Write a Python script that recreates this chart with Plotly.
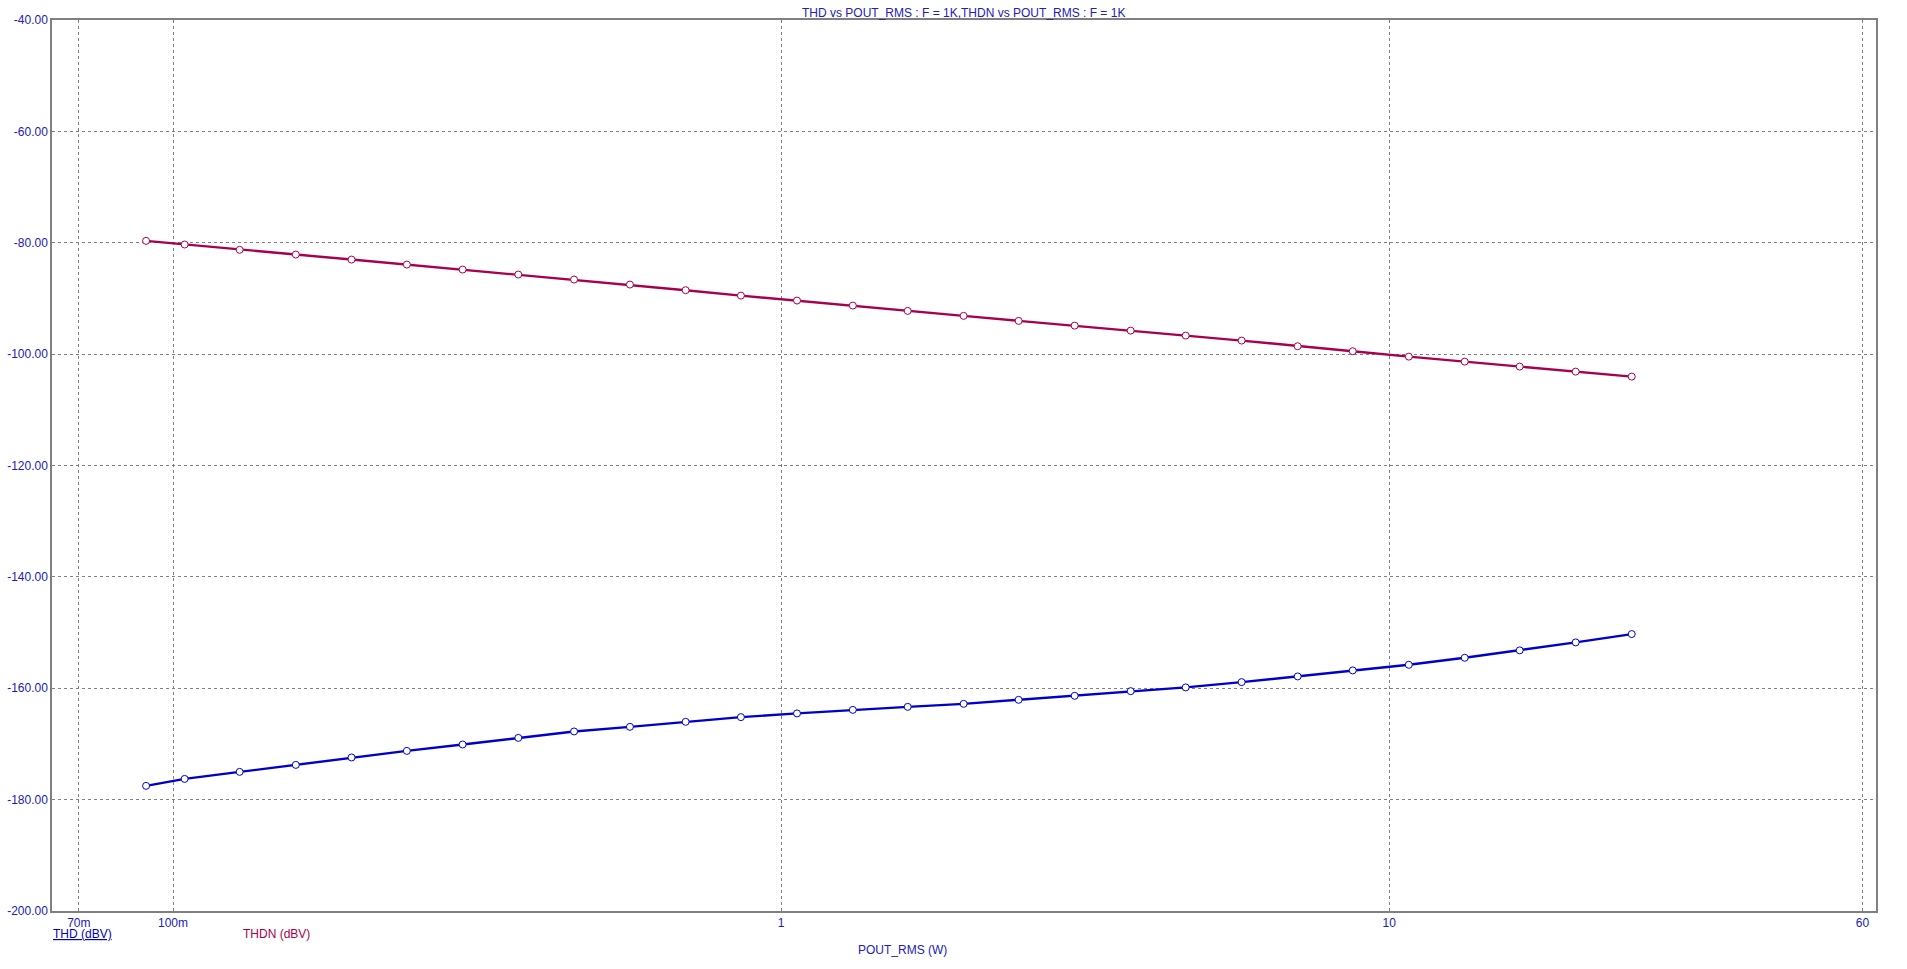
import plotly.graph_objects as go

# ---- data ----
pout_w = [0.0903, 0.1045, 0.1287, 0.1592, 0.1966, 0.2424, 0.2994, 0.3697, 0.4566, 0.5641,
          0.6966, 0.8588, 1.062, 1.312, 1.615, 1.996, 2.458, 3.039, 3.757, 4.627,
          5.719, 7.071, 8.710, 10.77, 13.31, 16.39, 20.26, 25.05]
thd_dbv = [-177.53, -176.28, -175.02, -173.76, -172.43, -171.25, -170.10, -168.91, -167.76, -166.93,
           -166.03, -165.19, -164.52, -163.88, -163.34, -162.80, -162.08, -161.36, -160.52, -159.85,
           -158.90, -157.88, -156.80, -155.79, -154.53, -153.20, -151.77, -150.27]
thdn_dbv = [-79.66, -80.32, -81.27, -82.12, -83.02, -83.92, -84.81, -85.71, -86.61, -87.51,
            -88.52, -89.49, -90.38, -91.28, -92.24, -93.13, -94.03, -94.88, -95.78, -96.67,
            -97.57, -98.58, -99.48, -100.45, -101.35, -102.24, -103.14, -104.04]

x_tick_vals = [0.07, 0.1, 1, 10, 60]
x_tick_text = ["70m", "100m", "1", "10", "60"]
y_tick_vals = [-200, -180, -160, -140, -120, -100, -80, -60, -40]
y_tick_text = ["-200.00", "-180.00", "-160.00", "-140.00", "-120.00",
               "-100.00", "-80.00", "-60.00", "-40.00"]

title_text = "THD vs POUT_RMS : F = 1K,THDN vs POUT_RMS : F = 1K"
x_title = "POUT_RMS (W)"

# ---- style ----
BLUE = "#0000CC"
CRIMSON = "#A8004C"
TEXT_BLUE = "#2020B8"
FONT = "Arial, 'Liberation Sans', sans-serif"

fig = go.Figure()
fig.add_trace(go.Scatter(
    x=pout_w, y=thd_dbv, mode="lines+markers", name="THD (dBV)",
    line=dict(color=BLUE, width=2.4),
    marker=dict(symbol="circle", size=7, color="white", line=dict(color=BLUE, width=1)),
))
fig.add_trace(go.Scatter(
    x=pout_w, y=thdn_dbv, mode="lines+markers", name="THDN (dBV)",
    line=dict(color=CRIMSON, width=2.4),
    marker=dict(symbol="circle", size=7, color="white", line=dict(color=CRIMSON, width=1)),
))

grid_common = dict(showgrid=True, gridcolor="#808080", gridwidth=1, griddash="3px,3px",
                   showline=True, linecolor="#808080", linewidth=1.5, mirror=True,
                   ticks="", zeroline=False, automargin=False,
                   tickfont=dict(family=FONT, size=12, color=TEXT_BLUE))

fig.update_xaxes(type="log", range=[-1.199, 1.8005],
                 tickvals=x_tick_vals, ticktext=x_tick_text, **grid_common)
fig.update_yaxes(range=[-200, -40], tickvals=y_tick_vals, ticktext=y_tick_text, **grid_common)

fig.update_layout(
    width=1907, height=969,
    margin=dict(l=52, r=31, t=20, b=58, pad=0),
    paper_bgcolor="white", plot_bgcolor="white",
    showlegend=False,
    font=dict(family=FONT, size=12, color=TEXT_BLUE),
    annotations=[
        dict(text=title_text, xref="paper", yref="paper", x=0.4995, y=1.0082,
             xanchor="center", yanchor="middle", showarrow=False,
             font=dict(family=FONT, size=12, color=TEXT_BLUE)),
        dict(text=x_title, xref="paper", yref="paper", x=0.4661, y=-0.0441,
             xanchor="center", yanchor="middle", showarrow=False,
             font=dict(family=FONT, size=12, color=TEXT_BLUE)),
        dict(text="<u>THD (dBV)</u>", xref="paper", yref="paper", x=-0.0005, y=-0.0262,
             xanchor="left", yanchor="middle", showarrow=False,
             font=dict(family=FONT, size=12, color=BLUE)),
        dict(text="THDN (dBV)", xref="paper", yref="paper", x=0.1036, y=-0.0262,
             xanchor="left", yanchor="middle", showarrow=False,
             font=dict(family=FONT, size=12, color=CRIMSON)),
    ],
)

fig.write_html("out.html", config={"displayModeBar": False},
               post_script="document.body.style.margin='0';")
